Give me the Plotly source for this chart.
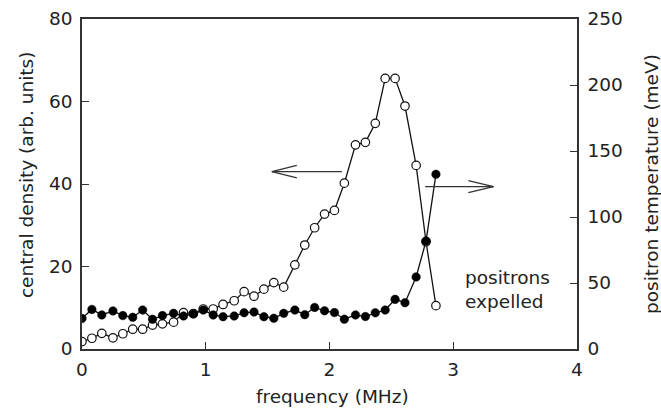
import plotly.graph_objects as go

freq_mhz = [0.00, 0.08, 0.16, 0.25, 0.33, 0.41, 0.49, 0.57, 0.65, 0.74,
            0.82, 0.90, 0.98, 1.06, 1.14, 1.23, 1.31, 1.39, 1.47, 1.55,
            1.63, 1.72, 1.80, 1.88, 1.96, 2.04, 2.12, 2.21, 2.29, 2.37,
            2.45, 2.53, 2.61, 2.70, 2.78, 2.86]

central_density = [1.8, 2.6, 3.8, 2.7, 3.7, 4.8, 4.8, 5.8, 6.1, 6.5,
                   8.8, 8.6, 9.7, 9.7, 10.8, 11.7, 13.9, 12.8, 14.5, 16.1,
                   15.0, 20.4, 25.2, 29.4, 32.7, 33.6, 40.2, 49.5, 50.1, 54.7,
                   65.6, 65.6, 58.9, 44.5, 26.0, 10.5]

positron_temp = [23.2, 30.0, 25.8, 28.8, 25.3, 24.0, 29.5, 22.5, 25.3, 27.0,
                 25.0, 26.5, 29.5, 25.8, 24.5, 25.0, 27.5, 28.0, 24.5, 23.3,
                 27.0, 29.5, 26.0, 31.5, 28.9, 27.6, 22.6, 25.8, 24.6, 27.4,
                 29.5, 37.6, 35.1, 54.6, 81.8, 132.3]

x_ticks = [0, 1, 2, 3, 4]
left_ticks = [0, 20, 40, 60, 80]
right_ticks = [0, 50, 100, 150, 200, 250]

FONT = "DejaVu Sans"
FS = 18.5
AX = "#333333"
TXT = "#222222"

fig = go.Figure()

fig.add_trace(go.Scatter(
    x=freq_mhz, y=central_density, mode="lines+markers",
    line=dict(color="#111111", width=1.3),
    marker=dict(symbol="circle", size=8.5, color="white",
                line=dict(color="#111111", width=1.2)),
    name="central density", yaxis="y"))

fig.add_trace(go.Scatter(
    x=freq_mhz, y=positron_temp, mode="lines+markers",
    line=dict(color="#111111", width=1.3),
    marker=dict(symbol="circle", size=8.5, color="#000000",
                line=dict(color="#000000", width=0.5)),
    name="positron temperature", yaxis="y2"))

axis_common = dict(
    showgrid=False, zeroline=False, showline=True, linecolor=AX, linewidth=1.5,
    ticks="inside", ticklen=7, tickwidth=1.3, tickcolor=AX,
    tickfont=dict(family=FONT, size=FS, color=TXT),
)

fig.update_layout(
    width=661, height=411,
    margin=dict(l=82, r=84, t=19, b=62, autoexpand=False),
    paper_bgcolor="white", plot_bgcolor="white",
    showlegend=False,
    font=dict(family=FONT, size=FS, color=TXT),
    xaxis=dict(range=[0, 4], tickvals=x_ticks, ticktext=[str(v) for v in x_ticks],
               mirror=True, ticklabelstandoff=3, **axis_common),
    yaxis=dict(range=[0, 80], tickvals=left_ticks, ticktext=[str(v) for v in left_ticks],
               ticklabelstandoff=4, **axis_common),
    yaxis2=dict(range=[0, 250], tickvals=right_ticks, ticktext=[str(v) for v in right_ticks],
                overlaying="y", side="right", ticklabelstandoff=5, **axis_common),
)

# arrows (left arrow -> density axis, right arrow -> temperature axis)
arrow_style = dict(color="#333333", width=1.3)
left_arrow = dict(tail=2.10, tip=1.534, y=43.0, arm_x=1.736, arm_dy=1.5)
right_arrow = dict(tail=2.773, tip=3.325, y=39.35, arm_x=3.122, arm_dy=1.45)
for a in (left_arrow, right_arrow):
    fig.add_shape(type="line", xref="x", yref="y", x0=a["tail"], x1=a["tip"],
                  y0=a["y"], y1=a["y"], line=arrow_style)
    fig.add_shape(type="line", xref="x", yref="y", x0=a["tip"], x1=a["arm_x"],
                  y0=a["y"], y1=a["y"] + a["arm_dy"], line=arrow_style)
    fig.add_shape(type="line", xref="x", yref="y", x0=a["tip"], x1=a["arm_x"],
                  y0=a["y"], y1=a["y"] - a["arm_dy"], line=arrow_style)

fig.add_annotation(x=3.08, y=14.5, xref="x", yref="y", text="positrons<br>expelled",
                   showarrow=False, xanchor="left", yanchor="middle", align="left",
                   font=dict(family=FONT, size=FS, color=TXT))

fig.add_annotation(x=0.507, y=-0.145, xref="paper", yref="paper", text="frequency (MHz)",
                   showarrow=False, xanchor="center", yanchor="middle",
                   font=dict(family=FONT, size=FS, color=TXT))
fig.add_annotation(x=(26 - 82) / 495, y=0.527, xref="paper", yref="paper",
                   text="central density (arb. units)", textangle=-90,
                   showarrow=False, xanchor="center", yanchor="middle",
                   font=dict(family=FONT, size=FS, color=TXT))
fig.add_annotation(x=(651 - 82) / 495, y=0.5, xref="paper", yref="paper",
                   text="positron temperature (meV)", textangle=-90,
                   showarrow=False, xanchor="center", yanchor="middle",
                   font=dict(family=FONT, size=FS, color=TXT))

fig.write_html(
    "out.html",
    config={"displayModeBar": False},
    post_script="document.body.style.margin='0';document.body.style.overflow='hidden';",
)
